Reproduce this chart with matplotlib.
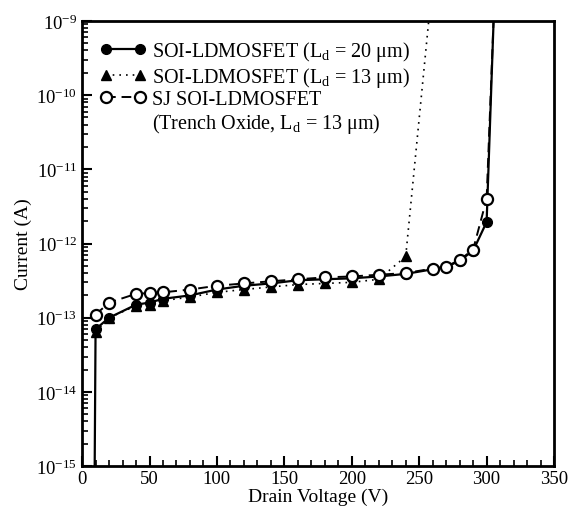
import numpy as np
import matplotlib
matplotlib.use("Agg")
import matplotlib.pyplot as plt
from matplotlib.ticker import FixedLocator, LogLocator, MultipleLocator, NullFormatter

plt.rcParams['font.family'] = ['Liberation Serif', 'DejaVu Serif']
plt.rcParams['mathtext.fontset'] = 'custom'
plt.rcParams['mathtext.rm'] = 'Liberation Serif'
plt.rcParams['mathtext.it'] = 'Liberation Serif:italic'

# drain voltage (V) and current (A)
v_20 = [10, 20, 40, 50, 60, 80, 100, 120, 140, 160, 180, 200, 220, 240, 260, 270, 280, 290, 300]
i_20 = [0.70e-13, 1.0e-13, 1.5e-13, 1.6e-13, 1.8e-13, 2.0e-13, 2.4e-13, 2.7e-13, 2.9e-13,
        3.2e-13, 3.3e-13, 3.4e-13, 3.6e-13, 3.9e-13, 4.5e-13, 4.8e-13, 5.9e-13, 8.0e-13, 1.95e-12]
# breakdown tails (line only)
v_20_low, i_20_low = [9, 10], [1e-16, 0.70e-13]
v_20_bd, i_20_bd = [300, 305.5], [1.95e-12, 1.5e-9]

v_13 = [10, 20, 40, 50, 60, 80, 100, 120, 140, 160, 180, 200, 220, 240]
i_13 = [0.65e-13, 1.0e-13, 1.45e-13, 1.5e-13, 1.7e-13, 1.9e-13, 2.2e-13, 2.4e-13, 2.6e-13,
        2.8e-13, 2.9e-13, 3.0e-13, 3.3e-13, 6.7e-13]
v_13_bd, i_13_bd = [240, 258], [6.7e-13, 1.5e-9]

v_sj = [10, 20, 40, 50, 60, 80, 100, 120, 140, 160, 180, 200, 220, 240, 260, 270, 280, 290, 300]
i_sj = [1.1e-13, 1.6e-13, 2.1e-13, 2.15e-13, 2.2e-13, 2.4e-13, 2.7e-13, 2.9e-13, 3.1e-13,
        3.3e-13, 3.5e-13, 3.6e-13, 3.8e-13, 4.0e-13, 4.6e-13, 4.9e-13, 6.0e-13, 8.3e-13, 4.0e-12]
v_sj_bd, i_sj_bd = [300, 305.5], [4.0e-12, 1.5e-9]

y_ticks = [1e-15, 1e-14, 1e-13, 1e-12, 1e-11, 1e-10, 1e-9]

fig = plt.figure(figsize=(5.7, 5.1), dpi=100)
ax = fig.add_axes([0.144, 0.084, 0.828, 0.873])

ax.plot(v_20_low, i_20_low, color='black', lw=1.6)
ax.plot(v_20_bd, i_20_bd, color='black', lw=1.6)
ax.plot(v_13_bd, i_13_bd, color='black', lw=1.2, ls=(0, (1, 3)))
ax.plot(v_sj_bd, i_sj_bd, color='black', lw=1.4, ls=(0, (5, 3)))

ax.plot(v_20, i_20, color='black', lw=1.6, marker='o', ms=7, mfc='black', mec='black',
        label=r'SOI-LDMOSFET (L$_\mathregular{d}$ = 20 μm)')
ax.plot(v_13, i_13, color='black', lw=1.2, ls=(0, (1, 3)), marker='^', ms=7, mfc='black',
        mec='black', label=r'SOI-LDMOSFET (L$_\mathregular{d}$ = 13 μm)')
ax.plot(v_sj, i_sj, color='black', lw=1.4, ls=(0, (5, 3)), marker='o', ms=8, mfc='white',
        mec='black', mew=1.6, label='SJ SOI-LDMOSFET')
# second line of the third legend entry (no handle)
ax.plot([], [], color='none', label=r'(Trench Oxide, L$_\mathregular{d}$ = 13 μm)')

ax.set_yscale('log')
ax.set_xlim(0, 350)
ax.set_ylim(1e-15, 1e-9)
ax.xaxis.set_major_locator(MultipleLocator(50))
ax.xaxis.set_minor_locator(MultipleLocator(10))
ax.yaxis.set_major_locator(FixedLocator(y_ticks))
ax.yaxis.set_minor_locator(LogLocator(base=10, subs=np.arange(2, 10), numticks=10))
ax.yaxis.set_minor_formatter(NullFormatter())

ax.tick_params(which='both', direction='in', top=False, right=False, labelsize=13.5)
ax.tick_params(which='major', length=7, width=1.5)
ax.tick_params(which='minor', length=4, width=1.2)
ax.tick_params(axis='x', pad=3)
for s in ax.spines.values():
    s.set_linewidth(2)

ax.set_xlabel('Drain Voltage (V)', fontsize=14, labelpad=0)
ax.set_ylabel('Current (A)', fontsize=14, labelpad=3)

leg = ax.legend(loc='upper left', frameon=False, fontsize=14.5, numpoints=2, handlelength=2.3,
                handletextpad=0.25, labelspacing=0.08, borderaxespad=0.5, borderpad=0.4)

fig.savefig('out.png', dpi=100)
